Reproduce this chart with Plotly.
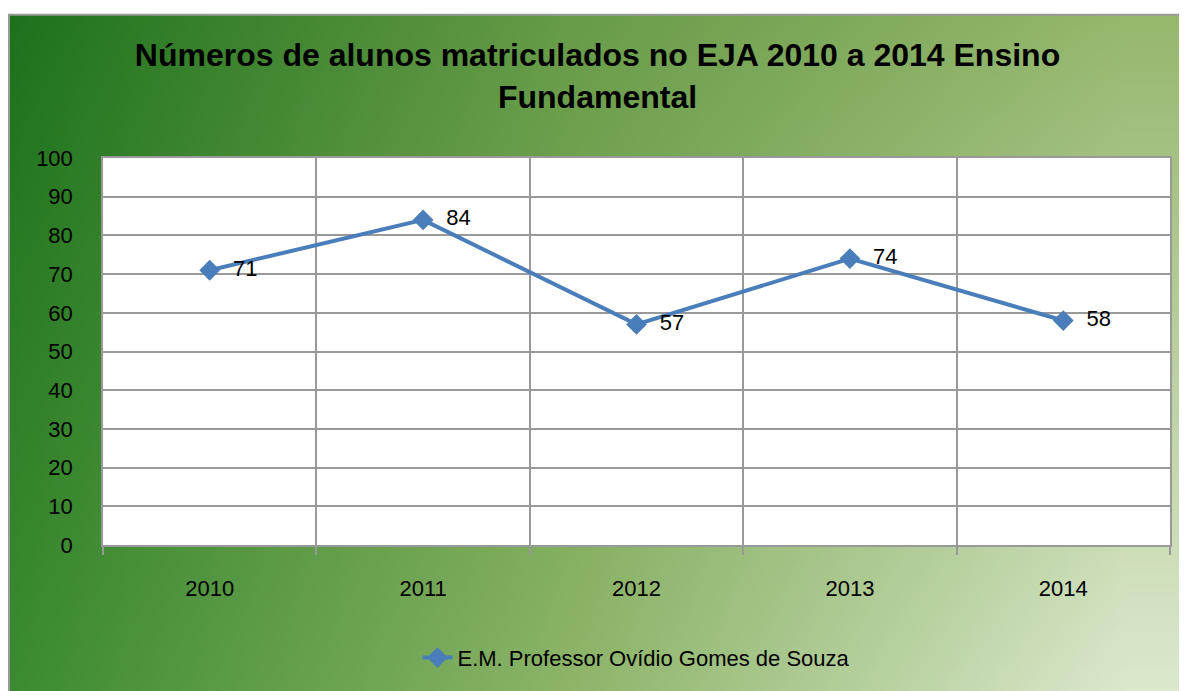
import base64
import struct
import zlib
import numpy as np
import plotly.graph_objects as go

years = ["2010", "2011", "2012", "2013", "2014"]
alunos = [71, 84, 57, 74, 58]
serie = "E.M. Professor Ovídio Gomes de Souza"
titulo = "Números de alunos matriculados no EJA 2010 a 2014 Ensino<br>Fundamental"

# page body adds an 8px offset, so the figure is 8px smaller than the window
W, H = 1179, 683
L, T, PW, PH = 95, 150, 1067, 392
R, B = W - L - PW, H - T - PH


# ---- background gradient bitmap (style only) ----
def hex2rgb(h):
    h = h.lstrip("#")
    return [int(h[i:i + 2], 16) for i in (0, 2, 4)]


bg_u = [0.0, 0.47, 0.93]
bg_top = [hex2rgb(c) for c in ("#237620", "#6ea04e", "#a2c07e")]
bg_bot = [hex2rgb(c) for c in ("#3a8a30", "#8cb468", "#d8e6c8")]
v_top, v_bot = 0.17, 0.93

gw, gh = 240, 140
uu = (np.arange(gw) + 0.5) / gw
vv = (np.arange(gh) + 0.5) / gh
top = np.stack([np.interp(uu, bg_u, [c[k] for c in bg_top]) for k in range(3)], -1)
bot = np.stack([np.interp(uu, bg_u, [c[k] for c in bg_bot]) for k in range(3)], -1)
t = np.clip((vv - v_top) / (v_bot - v_top), -0.25, 1.1)[:, None, None]
img = np.clip(top[None] * (1 - t) + bot[None] * t, 0, 255).astype(np.uint8)


def to_png(a):
    h, w, _ = a.shape
    raw = b"".join(b"\x00" + a[i].tobytes() for i in range(h))

    def chunk(tag, data):
        return struct.pack(">I", len(data)) + tag + data + struct.pack(">I", zlib.crc32(tag + data) & 0xFFFFFFFF)

    return (b"\x89PNG\r\n\x1a\n" + chunk(b"IHDR", struct.pack(">IIBBBBB", w, h, 8, 2, 0, 0, 0))
            + chunk(b"IDAT", zlib.compress(raw, 9)) + chunk(b"IEND", b""))


src = "data:image/png;base64," + base64.b64encode(to_png(img)).decode()


def px(v):
    return v / PW


def py(v):
    return v / PH


fig = go.Figure()
fig.add_trace(go.Scatter(
    x=years, y=alunos, mode="lines+markers+text", name=serie,
    line=dict(color="#4a7ebb", width=4),
    marker=dict(symbol="diamond", size=16, color="#4a7ebb"),
    text=["\u00a0\u00a0" + str(v) for v in alunos], textposition="middle right",
    textfont=dict(family="Liberation Sans", size=22, color="black"),
))

fig.update_layout(
    width=W, height=H,
    margin=dict(l=L, r=R, t=T, b=B),
    paper_bgcolor="white", plot_bgcolor="white",
    title=dict(text="<b>" + titulo + "</b>", x=0.5, xanchor="center", y=1 - 58 / H, yanchor="top",
               font=dict(family="Liberation Sans", size=32, color="black")),
    showlegend=True,
    legend=dict(orientation="h", x=0.5, xanchor="center", y=-py(93), yanchor="top",
                font=dict(family="Liberation Sans", size=22, color="black"),
                bgcolor="rgba(0,0,0,0)"),
    xaxis=dict(type="category", range=[-0.5, 4.5], tickson="boundaries",
               ticks="outside", ticklen=8, tickcolor="#999999", tickwidth=1.5,
               showgrid=True, gridcolor="#999999", gridwidth=1.5,
               showline=True, linecolor="#999999", linewidth=1.5, mirror=True,
               tickfont=dict(family="Liberation Sans", size=22, color="black"),
               ticklabelstandoff=23),
    yaxis=dict(range=[0, 100], dtick=10, showgrid=True, gridcolor="#999999", gridwidth=1.5,
               showline=True, linecolor="#999999", linewidth=1.5, mirror=True,
               zeroline=False, ticks="",
               tickfont=dict(family="Liberation Sans", size=22, color="black"),
               ticklabelstandoff=24),
    images=[dict(source=src, xref="paper", yref="paper", x=-px(L), y=1 + py(T),
                 sizex=(W + 20) / PW, sizey=(H + 20) / PH, xanchor="left", yanchor="top",
                 sizing="stretch", layer="below")],
)

# white plot area over the gradient
fig.add_shape(type="rect", xref="paper", yref="paper", x0=0, x1=1, y0=0, y1=1,
              fillcolor="white", line=dict(width=0), layer="below")
# white strip on top, then the gray frame
fig.add_shape(type="rect", xref="paper", yref="paper",
              x0=-px(L + 10), x1=1 + px(R + 10), y0=1 + py(T - 5), y1=1 + py(T + 10),
              fillcolor="white", line=dict(width=0), layer="below")
fig.add_shape(type="rect", xref="paper", yref="paper",
              x0=-px(L) + px(1), x1=1 + px(R + 30), y0=-py(B + 20), y1=1 + py(T - 5),
              fillcolor="rgba(0,0,0,0)", line=dict(color="#999999", width=2), layer="below")

fig.write_html("out.html")
